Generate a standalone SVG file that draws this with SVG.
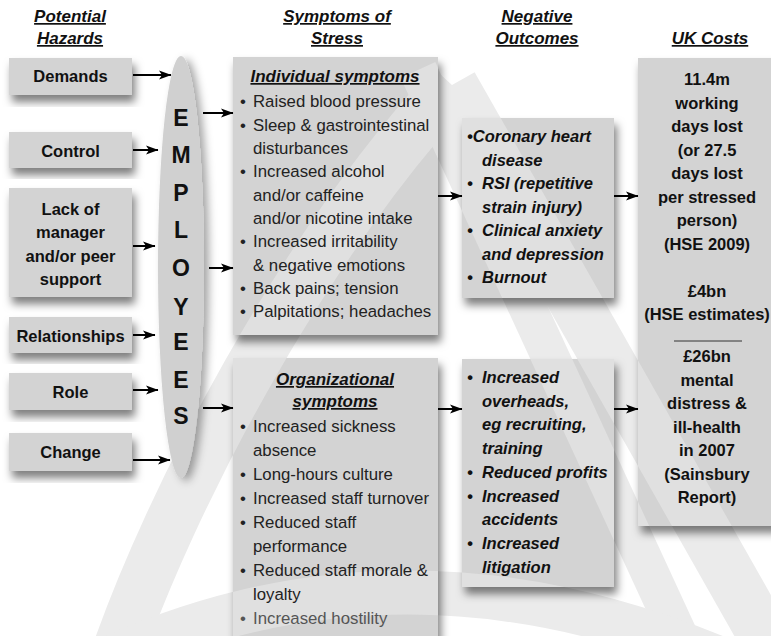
<svg xmlns="http://www.w3.org/2000/svg" xmlns:xlink="http://www.w3.org/1999/xlink" width="771" height="636" viewBox="0 0 771 636">
  <defs>
    <style>
      .hdr { font-family: "Liberation Sans", Arial, sans-serif; font-size: 17px; font-weight: bold; font-style: italic; text-decoration: underline; text-anchor: middle; fill: #111; }
      .box { fill: #d3d3d3; }
      .lbl { font-family: "Liberation Sans", Arial, sans-serif; font-size: 16.5px; font-weight: bold; text-anchor: middle; fill: #111; }
      .ttl { font-family: "Liberation Sans", Arial, sans-serif; font-size: 17px; font-weight: bold; font-style: italic; text-decoration: underline; text-anchor: middle; fill: #111; }
      .item { font-family: "Liberation Sans", Arial, sans-serif; font-size: 16.8px; fill: #222; }
      .out { font-family: "Liberation Sans", Arial, sans-serif; font-size: 16.5px; font-weight: bold; font-style: italic; fill: #111; }
      .emp { font-family: "Liberation Sans", Arial, sans-serif; font-size: 23px; font-weight: bold; text-anchor: middle; fill: #111; }
      .cost { font-family: "Liberation Sans", Arial, sans-serif; font-size: 16.5px; font-weight: bold; text-anchor: middle; fill: #111; }
      .conn { stroke: #000; stroke-width: 2; fill: none; marker-end: url(#arrow); }
      .sheen { stroke: #ffffff; opacity: 0.3; }
    </style>
    <marker id="arrow" markerUnits="userSpaceOnUse" markerWidth="13" markerHeight="10" refX="12" refY="5" orient="auto">
      <path d="M0,0.5 L12.5,5 L0,9.5 L3,5 Z" fill="#000"/>
    </marker>
    <filter id="shadow" x="-20%" y="-20%" width="150%" height="150%">
      <feDropShadow dx="3" dy="7" stdDeviation="4" flood-color="#000" flood-opacity="0.5"/>
    </filter>
    <filter id="eshadow" x="-50%" y="-10%" width="200%" height="120%">
      <feDropShadow dx="5" dy="3" stdDeviation="4" flood-color="#000" flood-opacity="0.35"/>
    </filter>
    <!-- faint background emblem -->
    <g id="emblem" fill="none">
      <path d="M115 660 C170 500 300 250 452 85" stroke-width="52" fill="none"/>
      <path d="M452 85 L775 655" stroke-width="52" fill="none"/>
      <path d="M418 70 L690 660" stroke-width="38" fill="none"/>
      <path d="M95 665 Q400 520 735 665" stroke-width="44" fill="none"/>
    </g>
    <clipPath id="clipInd"><rect x="233" y="57" width="205" height="278"/></clipPath>
    <clipPath id="clipOrg"><rect x="233" y="358" width="205" height="290"/></clipPath>
    <clipPath id="clipOut1"><rect x="462" y="118" width="152" height="180"/></clipPath>
    <clipPath id="clipOut2"><rect x="462" y="359" width="152" height="228"/></clipPath>
    <clipPath id="clipUk"><rect x="638" y="58" width="140" height="468"/></clipPath>
  </defs>

  <rect width="771" height="636" fill="#fff"/>

  <!-- emblem behind everything -->
  <use xlink:href="#emblem" stroke="#ebebeb"/>

  <!-- column headings -->
  <g id="headings">
    <text class="hdr" x="70" y="22">Potential</text>
    <text class="hdr" x="70" y="44">Hazards</text>
    <text class="hdr" x="337" y="22">Symptoms of</text>
    <text class="hdr" x="337" y="44">Stress</text>
    <text class="hdr" x="537" y="22">Negative</text>
    <text class="hdr" x="537" y="44">Outcomes</text>
    <text class="hdr" x="710" y="44">UK Costs</text>
  </g>

  <!-- hazards -->
  <g id="demands">
    <rect class="box" x="9" y="58" width="123" height="37" filter="url(#shadow)"/>
    <text class="lbl" x="70.5" y="82">Demands</text>
  </g>
  <g id="control">
    <rect class="box" x="9" y="132" width="123" height="36" filter="url(#shadow)"/>
    <text class="lbl" x="70.5" y="157">Control</text>
  </g>
  <g id="support">
    <rect class="box" x="9" y="188" width="123" height="109" filter="url(#shadow)"/>
    <text class="lbl" x="70.5" y="215">Lack of</text>
    <text class="lbl" x="70.5" y="238">manager</text>
    <text class="lbl" x="70.5" y="262">and/or peer</text>
    <text class="lbl" x="70.5" y="285">support</text>
  </g>
  <g id="relationships">
    <rect class="box" x="9" y="317" width="123" height="36" filter="url(#shadow)"/>
    <text class="lbl" x="70.5" y="342">Relationships</text>
  </g>
  <g id="role">
    <rect class="box" x="9" y="373" width="123" height="37" filter="url(#shadow)"/>
    <text class="lbl" x="70.5" y="398">Role</text>
  </g>
  <g id="change">
    <rect class="box" x="9" y="433" width="123" height="38" filter="url(#shadow)"/>
    <text class="lbl" x="70.5" y="458">Change</text>
  </g>

  <!-- employees -->
  <g id="employees">
    <ellipse cx="181" cy="267" rx="23" ry="211" fill="#d0d0d0" filter="url(#eshadow)"/>
    <text class="emp" x="181" y="126">E</text>
    <text class="emp" x="181" y="163">M</text>
    <text class="emp" x="181" y="201">P</text>
    <text class="emp" x="181" y="238">L</text>
    <text class="emp" x="181" y="276">O</text>
    <text class="emp" x="181" y="315">Y</text>
    <text class="emp" x="181" y="350">E</text>
    <text class="emp" x="181" y="388">E</text>
    <text class="emp" x="181" y="424">S</text>
  </g>

  <!-- individual symptoms -->
  <g id="individual">
    <rect class="box" x="233" y="57" width="205" height="278" filter="url(#shadow)"/>
    <use xlink:href="#emblem" class="sheen" clip-path="url(#clipInd)"/>
    <text class="ttl" x="335" y="82">Individual symptoms</text>
    <g class="item">
      <text x="240" y="107">•</text><text x="253" y="107">Raised blood pressure</text>
      <text x="240" y="130.5">•</text><text x="253" y="130.5">Sleep &amp; gastrointestinal</text>
      <text x="253" y="154">disturbances</text>
      <text x="240" y="177">•</text><text x="253" y="177">Increased alcohol</text>
      <text x="253" y="200.5">and/or caffeine</text>
      <text x="253" y="224">and/or nicotine intake</text>
      <text x="240" y="247">•</text><text x="253" y="247">Increased irritability</text>
      <text x="253" y="270.5">&amp; negative emotions</text>
      <text x="240" y="294">•</text><text x="253" y="294">Back pains; tension</text>
      <text x="240" y="317">•</text><text x="253" y="317">Palpitations; headaches</text>
    </g>
  </g>

  <!-- organizational symptoms -->
  <g id="organizational">
    <rect class="box" x="233" y="358" width="205" height="290" filter="url(#shadow)"/>
    <use xlink:href="#emblem" class="sheen" clip-path="url(#clipOrg)"/>
    <text class="ttl" x="335" y="385">Organizational</text>
    <text class="ttl" x="335" y="407">symptoms</text>
    <g class="item">
      <text x="240" y="432">•</text><text x="253" y="432">Increased sickness</text>
      <text x="253" y="456">absence</text>
      <text x="240" y="480">•</text><text x="253" y="480">Long-hours culture</text>
      <text x="240" y="504">•</text><text x="253" y="504">Increased staff turnover</text>
      <text x="240" y="528">•</text><text x="253" y="528">Reduced staff</text>
      <text x="253" y="552">performance</text>
      <text x="240" y="576">•</text><text x="253" y="576">Reduced staff morale &amp;</text>
      <text x="253" y="600">loyalty</text>
      <text x="240" y="624" fill="#555">•</text><text x="253" y="624" fill="#555">Increased hostility</text>
    </g>
  </g>

  <!-- negative outcomes -->
  <g id="outcomes-health">
    <rect class="box" x="462" y="118" width="152" height="180" filter="url(#shadow)"/>
    <use xlink:href="#emblem" class="sheen" clip-path="url(#clipOut1)"/>
    <g class="out">
      <text x="467" y="142">•Coronary heart</text>
      <text x="482" y="165.5">disease</text>
      <text x="467" y="189">•</text><text x="482" y="189">RSI (repetitive</text>
      <text x="482" y="212.5">strain injury)</text>
      <text x="467" y="236">•</text><text x="482" y="236">Clinical anxiety</text>
      <text x="482" y="259.5">and depression</text>
      <text x="467" y="283">•</text><text x="482" y="283">Burnout</text>
    </g>
  </g>
  <g id="outcomes-business">
    <rect class="box" x="462" y="359" width="152" height="228" filter="url(#shadow)"/>
    <use xlink:href="#emblem" class="sheen" clip-path="url(#clipOut2)"/>
    <g class="out">
      <text x="467" y="383">•</text><text x="482" y="383">Increased</text>
      <text x="482" y="406.7">overheads,</text>
      <text x="482" y="430.4">eg recruiting,</text>
      <text x="482" y="454.1">training</text>
      <text x="467" y="477.8">•</text><text x="482" y="477.8">Reduced profits</text>
      <text x="467" y="501.5">•</text><text x="482" y="501.5">Increased</text>
      <text x="482" y="525.2">accidents</text>
      <text x="467" y="548.9">•</text><text x="482" y="548.9">Increased</text>
      <text x="482" y="572.6">litigation</text>
    </g>
  </g>

  <!-- UK costs -->
  <g id="uk-costs">
    <rect class="box" x="638" y="58" width="140" height="468" filter="url(#shadow)"/>
    <use xlink:href="#emblem" class="sheen" clip-path="url(#clipUk)"/>
    <g class="cost">
      <text x="707" y="85">11.4m</text>
      <text x="707" y="108.5">working</text>
      <text x="707" y="132">days lost</text>
      <text x="707" y="155.5">(or 27.5</text>
      <text x="707" y="179">days lost</text>
      <text x="707" y="202.5">per stressed</text>
      <text x="707" y="226">person)</text>
      <text x="707" y="249.5">(HSE 2009)</text>
      <text x="707" y="296.5">£4bn</text>
      <text x="707" y="320">(HSE estimates)</text>
      <text x="707" y="362">£26bn</text>
      <text x="707" y="385.5">mental</text>
      <text x="707" y="409">distress &amp;</text>
      <text x="707" y="432.5">ill-health</text>
      <text x="707" y="456">in 2007</text>
      <text x="707" y="479.5">(Sainsbury</text>
      <text x="707" y="503">Report)</text>
    </g>
    <line x1="674" y1="341" x2="742" y2="341" stroke="#333" stroke-width="1"/>
  </g>

  <!-- connectors -->
  <g id="connectors">
    <line class="conn" x1="133" y1="75" x2="171" y2="75"/>
    <line class="conn" x1="133" y1="150" x2="158" y2="150"/>
    <line class="conn" x1="133" y1="246" x2="155" y2="246"/>
    <line class="conn" x1="133" y1="335" x2="155" y2="335"/>
    <line class="conn" x1="133" y1="390" x2="158" y2="390"/>
    <line class="conn" x1="133" y1="460" x2="170" y2="460"/>
    <line class="conn" x1="203" y1="113" x2="233" y2="113"/>
    <line class="conn" x1="209" y1="268" x2="233" y2="268"/>
    <line class="conn" x1="203" y1="408" x2="233" y2="408"/>
    <line class="conn" x1="438" y1="196" x2="462" y2="196"/>
    <line class="conn" x1="438" y1="409" x2="462" y2="409"/>
    <line class="conn" x1="614" y1="196" x2="638" y2="196"/>
    <line class="conn" x1="614" y1="409" x2="638" y2="409"/>
  </g>
</svg>
